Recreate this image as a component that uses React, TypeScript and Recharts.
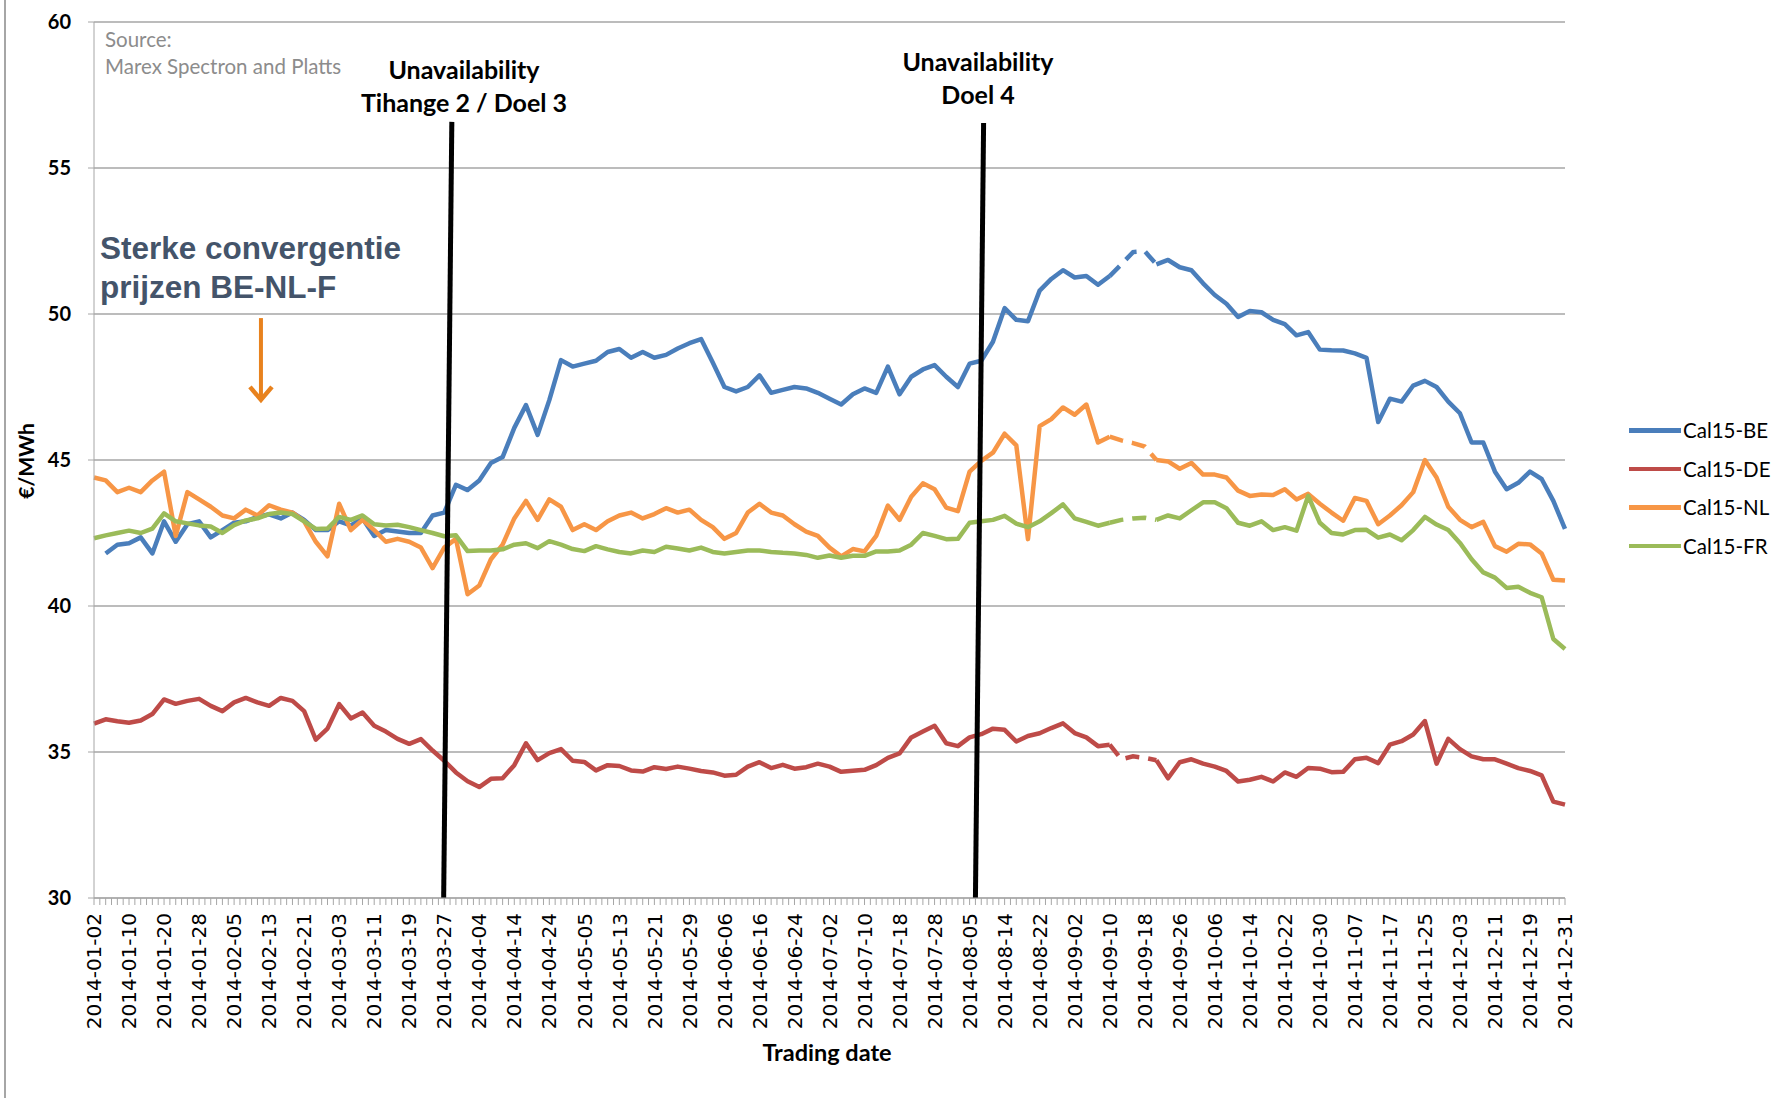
import React from 'react'
import { LineChart, Line, XAxis, YAxis, CartesianGrid, ReferenceLine } from 'recharts'

// samples are taken every 2nd trading day (index 0 = 2014-01-02, 252 = 2014-12-31)
const STEP = 2

// tick labels, one every 6 trading days
const tickDates = [
  '2014-01-02', '2014-01-10', '2014-01-20', '2014-01-28', '2014-02-05', '2014-02-13', '2014-02-21',
  '2014-03-03', '2014-03-11', '2014-03-19', '2014-03-27', '2014-04-04', '2014-04-14', '2014-04-24',
  '2014-05-05', '2014-05-13', '2014-05-21', '2014-05-29', '2014-06-06', '2014-06-16', '2014-06-24',
  '2014-07-02', '2014-07-10', '2014-07-18', '2014-07-28', '2014-08-05', '2014-08-14', '2014-08-22',
  '2014-09-02', '2014-09-10', '2014-09-18', '2014-09-26', '2014-10-06', '2014-10-14', '2014-10-22',
  '2014-10-30', '2014-11-07', '2014-11-17', '2014-11-25', '2014-12-03', '2014-12-11', '2014-12-19',
  '2014-12-31',
]

const cal15BE = [
  null, 41.8, 42.1, 42.15, 42.35, 41.8, 42.9, 42.2, 42.8, 42.9,
  42.35, 42.6, 42.85, 42.9, 43.05, 43.14, 43.0, 43.2, 42.95, 42.6,
  42.6, 42.9, 42.76, 43.0, 42.4, 42.6, 42.55, 42.5, 42.5, 43.1,
  43.2, 44.15, 43.97, 44.3, 44.9, 45.1, 46.1, 46.88, 45.86, 47.05,
  48.42, 48.2, 48.3, 48.4, 48.7, 48.8, 48.5, 48.7, 48.5, 48.6,
  48.82, 49.0, 49.14, 48.34, 47.5, 47.35, 47.5, 47.9, 47.3, 47.4,
  47.5, 47.45, 47.3, 47.1, 46.9, 47.25, 47.45, 47.3, 48.2, 47.25,
  47.85, 48.1, 48.25, 47.85, 47.5, 48.3, 48.4, 49.05, 50.2, 49.8,
  49.75, 50.8, 51.2, 51.5, 51.25, 51.3, 51.0, 51.3, 51.7, 52.12,
  52.15, 51.7, 51.85, 51.6, 51.5, 51.05, 50.65, 50.35, 49.9, 50.1,
  50.06, 49.8, 49.65, 49.27, 49.38, 48.78, 48.76, 48.75, 48.65, 48.5,
  46.3, 47.1, 47.0, 47.55, 47.71, 47.5, 47.0, 46.6, 45.6, 45.6,
  44.6, 44.0, 44.22, 44.6, 44.35, 43.6, 42.64,
]

const cal15DE = [
  35.97, 36.12, 36.05, 36.0, 36.08, 36.3, 36.8, 36.65, 36.75, 36.82,
  36.58, 36.4, 36.7, 36.85, 36.7, 36.58, 36.85, 36.75, 36.4, 35.42,
  35.8, 36.64, 36.15, 36.35, 35.9, 35.7, 35.45, 35.28, 35.44, 35.05,
  34.7, 34.3, 34.0, 33.8, 34.08, 34.1, 34.55, 35.3, 34.72, 34.96,
  35.1, 34.7, 34.66, 34.37, 34.55, 34.52, 34.37, 34.33, 34.48, 34.42,
  34.5, 34.43, 34.35, 34.3, 34.19, 34.22, 34.5, 34.65, 34.45, 34.56,
  34.43, 34.48, 34.6, 34.5, 34.32, 34.36, 34.39, 34.55, 34.8, 34.95,
  35.5, 35.7, 35.9, 35.3, 35.2, 35.5, 35.61, 35.8, 35.76, 35.36,
  35.55, 35.64, 35.82, 35.98, 35.65, 35.5, 35.2, 35.25, 34.75, 34.85,
  34.8, 34.72, 34.1, 34.65, 34.75, 34.6, 34.5, 34.35, 33.99, 34.05,
  34.15, 33.99, 34.3, 34.15, 34.45, 34.43, 34.31, 34.32, 34.75, 34.8,
  34.62, 35.25, 35.37, 35.6, 36.06, 34.6, 35.45, 35.1, 34.85, 34.75,
  34.75, 34.6, 34.45, 34.35, 34.2, 33.3, 33.2,
]

const cal15NL = [
  44.4, 44.3, 43.9, 44.05, 43.9, 44.3, 44.6, 42.4, 43.9, 43.65,
  43.4, 43.1, 43.0, 43.3, 43.1, 43.45, 43.3, 43.2, 42.9, 42.2,
  41.7, 43.5, 42.6, 42.95, 42.6, 42.2, 42.3, 42.2, 42.0, 41.3,
  42.0, 42.3, 40.4, 40.7, 41.6, 42.1, 43.0, 43.6, 42.95, 43.65,
  43.4, 42.6, 42.8, 42.6, 42.9, 43.1, 43.2, 43.0, 43.15, 43.35,
  43.2, 43.3, 42.95, 42.7, 42.3, 42.5, 43.2, 43.5, 43.2, 43.1,
  42.8, 42.55, 42.4, 42.0, 41.7, 41.95, 41.87, 42.4, 43.44, 42.95,
  43.74, 44.2, 44.0, 43.37, 43.25, 44.6, 44.97, 45.25, 45.9, 45.5,
  42.29, 46.16, 46.4, 46.8, 46.55, 46.9, 45.6, 45.8, 45.67, 45.58,
  45.46, 45.0, 44.95, 44.7, 44.9, 44.5, 44.5, 44.4, 43.95, 43.77,
  43.82, 43.8, 44.0, 43.65, 43.84, 43.5, 43.2, 42.92, 43.7, 43.6,
  42.8, 43.1, 43.45, 43.9, 45.0, 44.4, 43.4, 42.95, 42.7, 42.88,
  42.05, 41.86, 42.13, 42.11, 41.8, 40.9, 40.87,
]

const cal15FR = [
  42.32, 42.42, 42.5, 42.58, 42.5, 42.65, 43.17, 42.9, 42.83, 42.76,
  42.72, 42.5, 42.77, 42.93, 43.0, 43.15, 43.2, 43.15, 42.9, 42.64,
  42.65, 43.05, 42.95, 43.1, 42.8, 42.76, 42.78, 42.7, 42.6, 42.5,
  42.39, 42.42, 41.88, 41.9, 41.9, 41.94, 42.1, 42.15, 41.98, 42.22,
  42.1, 41.95, 41.88, 42.05, 41.94, 41.85, 41.8, 41.9, 41.85, 42.03,
  41.97, 41.9, 42.0, 41.85, 41.8, 41.85, 41.9, 41.9, 41.85, 41.82,
  41.8, 41.75, 41.65, 41.73, 41.65, 41.72, 41.72, 41.87, 41.87, 41.9,
  42.1, 42.5, 42.4, 42.29, 42.3, 42.85, 42.9, 42.95, 43.09, 42.82,
  42.7, 42.9, 43.18, 43.48, 43.0, 42.88, 42.75, 42.85, 42.95, 43.0,
  43.02, 42.95, 43.1, 43.0, 43.28, 43.55, 43.55, 43.35, 42.85, 42.75,
  42.9, 42.6, 42.7, 42.58, 43.77, 42.85, 42.5, 42.45, 42.6, 42.61,
  42.34, 42.45, 42.25, 42.6, 43.05, 42.79, 42.6, 42.16, 41.6, 41.15,
  40.97, 40.62, 40.66, 40.45, 40.3, 38.87, 38.53,
]

const series = [
  { key: 'be', name: 'Cal15-BE', color: '#4a7ebb', values: cal15BE },
  { key: 'de', name: 'Cal15-DE', color: '#be4b48', values: cal15DE },
  { key: 'nl', name: 'Cal15-NL', color: '#f79646', values: cal15NL },
  { key: 'fr', name: 'Cal15-FR', color: '#9bbb59', values: cal15FR },
]

// stretch of trading days drawn dashed in the original (broken data)
const GAP_FROM = 174
const GAP_TO = 182

const rows = cal15BE.map((_, k) => {
  const day = k * STEP
  const row: Record<string, number | null> = { day }
  series.forEach(s => {
    const v = s.values[k]
    row[s.key] = day > GAP_FROM && day < GAP_TO ? null : v
    row[s.key + 'Dash'] = day >= GAP_FROM && day <= GAP_TO ? v : null
  })
  return row
})

const lastDay = (cal15BE.length - 1) * STEP
const allDays = Array.from({ length: lastDay + 1 }, (_, i) => i)
const yTicks = [30, 35, 40, 45, 50, 55, 60]

const DateTick = ({ x, y, payload }: any) => {
  const day = payload.value
  if (day % 6 !== 0) return <g />
  return (
    <text
      x={x}
      y={y}
      transform={`rotate(-90, ${x}, ${y})`}
      textAnchor="end"
      dy="0.36em"
      fontSize={20}
      fontFamily="DejaVu Sans"
      fill="#000"
    >
      {tickDates[day / 6]}
    </text>
  )
}

const arrowShape = (p: any) => {
  const { x1, y1, x2, y2 } = p
  return (
    <g>
      <line x1={x1} y1={y1} x2={x2} y2={y2 - 2} stroke="#e8821e" strokeWidth={4} />
      <polyline
        points={`${x2 - 11},${y2 - 13} ${x2},${y2} ${x2 + 11},${y2 - 13}`}
        fill="none"
        stroke="#e8821e"
        strokeWidth={4.5}
        strokeLinejoin="miter"
      />
    </g>
  )
}

const bold = { fontFamily: 'Lato', fontWeight: 700, color: '#000' }

export default function App() {
  return (
    <div style={{ position: 'absolute', left: 0, top: 0, width: 1781, height: 1098, background: '#fff', overflow: 'hidden' }}>
      <div style={{ position: 'absolute', left: 4, top: 0, width: 2, height: 1098, background: '#a6a6a6' }} />
      <LineChart width={1781} height={1098} data={rows} margin={{ top: 22, right: 216, bottom: 70, left: 0 }}>
        <CartesianGrid vertical={false} stroke="#a6a6a6" strokeWidth={1.3} />
        <XAxis
          dataKey="day"
          type="number"
          domain={[0, lastDay]}
          ticks={allDays}
          interval={0}
          tick={<DateTick />}
          tickSize={7}
          tickMargin={8}
          height={130}
          stroke="#a6a6a6"
          tickLine={{ stroke: '#a6a6a6' }}
        />
        <YAxis
          type="number"
          domain={[30, 60]}
          ticks={yTicks}
          width={94}
          tickSize={6}
          tickMargin={17}
          stroke="#a6a6a6"
          tick={{ fill: '#000', fontFamily: 'Lato', fontWeight: 700, fontSize: 20 }}
        />
        {series.map(s => (
          <Line
            key={s.key}
            type="linear"
            dataKey={s.key}
            name={s.name}
            stroke={s.color}
            strokeWidth={4.5}
            dot={false}
            strokeLinejoin="round"
            isAnimationActive={false}
          />
        ))}
        {series.map(s => (
          <Line
            key={s.key + 'Dash'}
            type="linear"
            dataKey={s.key + 'Dash'}
            stroke={s.color}
            strokeWidth={4.5}
            strokeDasharray="14 9"
            dot={false}
            legendType="none"
            isAnimationActive={false}
          />
        ))}
        <ReferenceLine segment={[{ x: 61.3, y: 56.58 }, { x: 59.9, y: 30 }]} stroke="#000" strokeWidth={5} ifOverflow="visible" />
        <ReferenceLine segment={[{ x: 152.4, y: 56.54 }, { x: 151.0, y: 30 }]} stroke="#000" strokeWidth={5} ifOverflow="visible" />
        <ReferenceLine segment={[{ x: 28.6, y: 49.86 }, { x: 28.6, y: 47.06 }]} shape={arrowShape} ifOverflow="visible" />
      </LineChart>

      <div style={{ position: 'absolute', left: 105, top: 26, fontFamily: 'Lato', fontSize: 20.5, lineHeight: '27px', color: '#8c8c8c' }}>
        Source:<br />Marex Spectron and Platts
      </div>
      <div style={{ position: 'absolute', left: 100, top: 229, fontFamily: 'Liberation Sans', fontWeight: 700, fontSize: 31.5, lineHeight: '39px', color: '#44546a' }}>
        Sterke convergentie<br />prijzen BE-NL-F
      </div>
      <div style={{ ...bold, position: 'absolute', left: 334, top: 53, width: 260, textAlign: 'center', fontSize: 25, lineHeight: '33px' }}>
        Unavailability<br />Tihange 2 / Doel 3
      </div>
      <div style={{ ...bold, position: 'absolute', left: 848, top: 45, width: 260, textAlign: 'center', fontSize: 25, lineHeight: '33px' }}>
        Unavailability<br />Doel 4
      </div>
      <div style={{ ...bold, position: 'absolute', left: 25, top: 461, fontSize: 21, transform: 'translate(-50%, -50%) rotate(-90deg)', whiteSpace: 'nowrap' }}>
        €/MWh
      </div>
      <div style={{ ...bold, position: 'absolute', left: 677, top: 1038, width: 300, textAlign: 'center', fontSize: 23.5 }}>
        Trading date
      </div>

      <div style={{ position: 'absolute', left: 1629, top: 411 }}>
        {series.map(s => (
          <div key={s.key} style={{ display: 'flex', alignItems: 'center', height: 38.5 }}>
            <div style={{ width: 52, height: 4.5, background: s.color }} />
            <span style={{ fontFamily: 'Lato', fontSize: 20.5, color: '#000', marginLeft: 2 }}>{s.name}</span>
          </div>
        ))}
      </div>
    </div>
  )
}
